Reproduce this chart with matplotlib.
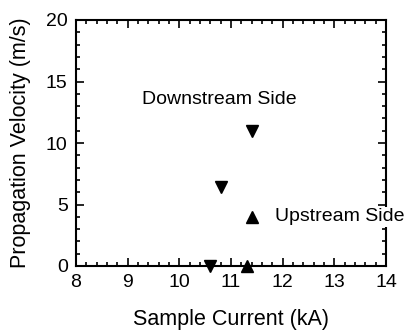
import matplotlib
matplotlib.use('Agg')
import matplotlib.pyplot as plt
from matplotlib.ticker import MultipleLocator

plt.rcParams['font.family'] = ['Liberation Sans', 'DejaVu Sans']

# data
down_x = [10.6, 10.8, 11.4]
down_y = [0.0, 6.4, 11.0]
up_x = [11.3, 11.4]
up_y = [0.0, 4.0]

fig = plt.figure(figsize=(4.06, 3.30), dpi=100)
ax = fig.add_axes([76 / 406, 1 - 266 / 330, 310 / 406, 246 / 330])

ax.plot(down_x, down_y, 'v', color='black', markersize=9, clip_on=False)
ax.plot(up_x, up_y, '^', color='black', markersize=9, clip_on=False)

ax.text(10.77, 13.5, 'Downstream Side', fontsize=14, ha='center', va='center')
ax.text(11.85, 4.0, 'Upstream Side', fontsize=14, ha='left', va='center',
        bbox=dict(facecolor='white', edgecolor='none', pad=1), clip_on=False)

ax.set_xlim(8, 14)
ax.set_ylim(0, 20)
ax.xaxis.set_major_locator(MultipleLocator(1))
ax.xaxis.set_minor_locator(MultipleLocator(0.2))
ax.yaxis.set_major_locator(MultipleLocator(5))
ax.yaxis.set_minor_locator(MultipleLocator(1))
ax.tick_params(which='both', direction='in', top=True, right=True, labelsize=14, width=1.2)
ax.tick_params(which='major', length=6, pad=6)
ax.tick_params(which='minor', length=3)
for s in ax.spines.values():
    s.set_linewidth(1.5)

ax.set_xlabel('Sample Current (kA)', fontsize=15.5, labelpad=13)
ax.set_ylabel('Propagation Velocity (m/s)', fontsize=15.5, labelpad=11)

fig.savefig('out.png', dpi=100)
